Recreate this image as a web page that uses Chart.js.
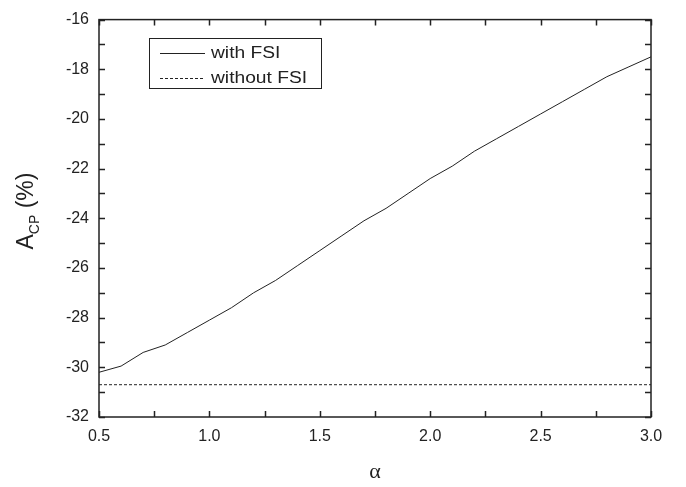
<!DOCTYPE html>
<html>
<head>
<meta charset="utf-8">
<title>A_CP vs alpha</title>
<script src="https://cdn.jsdelivr.net/npm/chart.js@4.4.1/dist/chart.umd.min.js"></script>
<style>
  html, body { margin: 0; padding: 0; background: #fff; }
  #wrap { width: 686px; height: 487px; }
</style>
</head>
<body>
<div id="wrap"><canvas id="acpChart" width="686" height="487"></canvas></div>
<script>
// valores
const alphaWith = [0.5, 0.6, 0.7, 0.8, 0.9, 1.0, 1.1, 1.2, 1.3, 1.4, 1.5, 1.6, 1.7,
                   1.8, 1.9, 2.0, 2.1, 2.2, 2.3, 2.4, 2.5, 2.6, 2.7, 2.8, 2.9, 3.0];
const acpWith = [-30.2, -29.95, -29.4, -29.1, -28.6, -28.1, -27.6, -27.0, -26.5, -25.9,
                 -25.3, -24.7, -24.1, -23.6, -23.0, -22.4, -21.9, -21.3, -20.8, -20.3,
                 -19.8, -19.3, -18.8, -18.3, -17.9, -17.5];
const alphaWithout = [0.5, 3.0];
const acpWithout = [-30.7, -30.7];
const seriesLabels = ['with FSI', 'without FSI'];

const ink = '#222';

// ticks para dentro nos quatro lados + legenda + títulos dos eixos
const framePlugin = {
    id: 'frame',
    afterDraw(chart) {
        const ctx = chart.ctx;
        const a = chart.chartArea;
        const xs = chart.scales.x, ys = chart.scales.y;
        const len = 6;
        ctx.save();
        ctx.strokeStyle = ink;
        ctx.lineWidth = 1.5;
        ctx.strokeRect(a.left, a.top, a.right - a.left, a.bottom - a.top);
        ctx.beginPath();
        for (let v = xs.min; v <= xs.max + 1e-9; v += 0.25) {
            const px = Math.round(xs.getPixelForValue(v)) + 0.5;
            ctx.moveTo(px, a.bottom); ctx.lineTo(px, a.bottom - len);
            ctx.moveTo(px, a.top); ctx.lineTo(px, a.top + len);
        }
        for (let v = ys.min; v <= ys.max + 1e-9; v += 1) {
            const py = Math.round(ys.getPixelForValue(v)) + 0.5;
            ctx.moveTo(a.left, py); ctx.lineTo(a.left + len, py);
            ctx.moveTo(a.right, py); ctx.lineTo(a.right - len, py);
        }
        ctx.stroke();

        // legenda (texto um pouco esticado na horizontal, como no original)
        const bx = 149, by = 38, bw = 172, bh = 50;
        ctx.lineWidth = 1;
        ctx.strokeRect(bx + 0.5, by + 0.5, bw, bh);
        ctx.font = '16px "Liberation Sans", Arial, sans-serif';
        ctx.fillStyle = ink;
        ctx.textBaseline = 'middle';
        chart.data.datasets.forEach((ds, i) => {
            const yy = by + 15 + i * 25 + 0.5;
            ctx.setLineDash(ds.borderDash || []);
            ctx.beginPath();
            ctx.moveTo(bx + 11, yy); ctx.lineTo(bx + 56, yy);
            ctx.stroke();
            ctx.setLineDash([]);
            ctx.save();
            ctx.translate(bx + 62, yy);
            ctx.scale(1.2, 1);
            ctx.fillText(ds.label, 0, 0);
            ctx.restore();
        });

        // título do eixo y: A_CP (%)
        ctx.save();
        ctx.translate(33, 211);
        ctx.rotate(-Math.PI / 2);
        ctx.textBaseline = 'alphabetic';
        const big = '23px "Liberation Sans", Arial, sans-serif';
        const small = '14px "Liberation Sans", Arial, sans-serif';
        ctx.font = big; const wA = ctx.measureText('A').width;
        const wP = ctx.measureText(' (%)').width;
        ctx.font = small; const wS = ctx.measureText('CP').width;
        let x0 = -(wA + wS + wP) / 2;
        ctx.font = big; ctx.fillText('A', x0, 0);
        ctx.font = small; ctx.fillText('CP', x0 + wA, 6);
        ctx.font = big; ctx.fillText(' (%)', x0 + wA + wS, 0);
        ctx.restore();

        // título do eixo x: alpha
        ctx.font = '22px "Liberation Serif", "DejaVu Serif", serif';
        ctx.textAlign = 'center';
        ctx.textBaseline = 'alphabetic';
        ctx.fillText('\u03B1', (a.left + a.right) / 2, 478);
        ctx.restore();
    }
};

function buildChart() {
    const ctx = document.getElementById('acpChart').getContext('2d');
    new Chart(ctx, {
        type: 'line',
        data: {
            datasets: [{
                label: seriesLabels[0],
                data: alphaWith.map((x, i) => ({ x: x, y: acpWith[i] })),
                borderColor: ink,
                borderWidth: 1,
                pointRadius: 0,
                tension: 0
            }, {
                label: seriesLabels[1],
                data: alphaWithout.map((x, i) => ({ x: x, y: acpWithout[i] })),
                borderColor: ink,
                borderWidth: 1,
                borderDash: [3, 2],
                pointRadius: 0,
                tension: 0
            }]
        },
        options: {
            responsive: false,
            animation: false,
            layout: { padding: { top: 9, right: 35, left: 0, bottom: 0 } },
            plugins: { legend: { display: false }, tooltip: { enabled: false } },
            scales: {
                x: {
                    type: 'linear',
                    min: 0.5, max: 3.0,
                    grid: { display: false, drawTicks: false },
                    border: { display: false },
                    afterFit: s => { s.height = 70; },
                    ticks: {
                        stepSize: 0.5,
                        padding: 10,
                        color: ink,
                        maxRotation: 0,
                        font: { family: '"Liberation Sans", Arial, sans-serif', size: 16 },
                        callback: v => v.toFixed(1)
                    }
                },
                y: {
                    min: -32, max: -16,
                    grid: { display: false, drawTicks: false },
                    border: { display: false },
                    afterFit: s => { s.width = 99; },
                    ticks: {
                        stepSize: 2,
                        padding: 10,
                        color: ink,
                        font: { family: '"Liberation Sans", Arial, sans-serif', size: 16 }
                    }
                }
            }
        },
        plugins: [framePlugin]
    });
}

document.addEventListener('DOMContentLoaded', buildChart);
</script>
</body>
</html>
